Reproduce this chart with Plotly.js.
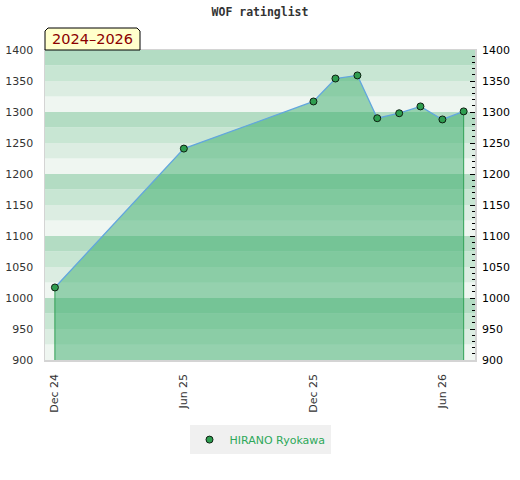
<!DOCTYPE html>
<html>
<head>
<meta charset="utf-8">
<script src="https://cdn.plot.ly/plotly-3.0.1.min.js"></script>
<style>html,body{margin:0;padding:0;background:#fff;}#chart{width:520px;height:480px;}</style>
</head>
<body>
<div id="chart"></div>
<script>
// ---- data ----
const playerName = "HIRANO Ryokawa";
const periodLabel = "2024–2026";
const chartTitle = "WOF ratinglist";
const dates = ["2024-12-01","2025-06-01","2025-12-01","2026-01-01","2026-02-01","2026-03-01","2026-04-01","2026-05-01","2026-06-01","2026-07-01"];
const ratings = [1017, 1241, 1317, 1354, 1359, 1290, 1298, 1309, 1288, 1301];
const xTickVals = ["2024-12-01","2025-06-01","2025-12-01","2026-06-01"];
const xTickText = ["Dec 24","Jun 25","Dec 25","Jun 26"];
const yMin = 900, yMax = 1400;
const xRange = ["2024-11-17","2026-07-17"];

// ---- background bands ----
const bandColors = ["#eff6f1","#dcede2","#c8e6d3","#b3dcc3"];
const shapes = [];
for (let v = yMin, i = 0; v < yMax; v += 25, i++) {
  shapes.push({type:"rect", xref:"paper", yref:"y", x0:0, x1:1, y0:v, y1:v+25,
    fillcolor: bandColors[i % 4], line:{width:0}, layer:"below"});
}
// vertical edges of the filled area
[0, dates.length-1].forEach(k => {
  shapes.push({type:"line", xref:"x", yref:"y", x0:dates[k], x1:dates[k], y0:yMin, y1:ratings[k],
    line:{color:"#2f9e50", width:1}, layer:"below"});
});
// period label box (cut corners)
shapes.push({type:"path", xref:"paper", yref:"paper", xsizemode:"pixel", ysizemode:"pixel",
  xanchor:0, yanchor:1, path:"M0,0 L0,19 L3,22 L92,22 L95,19 L95,0 Z",
  fillcolor:"#ffffcc", line:{color:"#000", width:1}, layer:"above"});

const traces = [
  {x:dates, y:ratings, type:"scatter", mode:"lines", showlegend:false, hoverinfo:"skip",
   fill:"tozeroy", fillcolor:"rgba(50,170,100,0.48)",
   line:{color:"#62a6de", width:1.3}},
  {x:dates, y:ratings, type:"scatter", mode:"markers", name:playerName,
   marker:{color:"#2f9e50", size:7, line:{color:"#0d1f12", width:1}}},
  {x:dates, y:ratings, type:"scatter", mode:"none", yaxis:"y2", showlegend:false, hoverinfo:"skip"}
];

const layout = {
  width:520, height:480,
  margin:{l:45, r:45, t:50, b:120},
  paper_bgcolor:"#fff", plot_bgcolor:"#fff",
  font:{family:"DejaVu Sans", size:11, color:"#333"},
  title:{text:chartTitle, x:0.5, xanchor:"center", y:0.975, yanchor:"middle",
    font:{family:"DejaVu Sans Mono", size:11.5, color:"#333", weight:"bold"}},
  xaxis:{type:"date", range:xRange, tickvals:xTickVals, ticktext:xTickText, tickangle:-90,
    showgrid:false, zeroline:false, showline:true, mirror:true, linecolor:"#d4d4d4", linewidth:1.5,
    ticks:"", ticklabelstandoff:8, tickfont:{size:11, color:"#333"}},
  yaxis:{range:[yMin,yMax], dtick:50, showgrid:false, zeroline:false, showline:true, mirror:true,
    linecolor:"#d4d4d4", linewidth:1.5, ticks:"", ticklabelstandoff:8, tickfont:{size:11, color:"#333"}},
  yaxis2:{range:[yMin,yMax], dtick:50, overlaying:"y", side:"right", showgrid:false, zeroline:false,
    showline:false, ticks:"inside", ticklen:5, tickcolor:"#000", tickwidth:1,
    minor:{dtick:10, ticks:"inside", ticklen:3, tickcolor:"#000", tickwidth:1},
    ticklabelstandoff:6, tickfont:{size:11, color:"#000"}},
  showlegend:true,
  legend:{orientation:"h", x:0.5, xanchor:"center", y:-0.21, yanchor:"top",
    bgcolor:"#f0f0f0", font:{size:11, color:"#2ea85a"}, itemwidth:30},
  shapes:shapes,
  annotations:[{text:periodLabel, xref:"paper", yref:"paper", x:0, y:1, xanchor:"left", yanchor:"bottom",
    xshift:5, yshift:1, showarrow:false, font:{family:"DejaVu Sans", size:14.5, color:"#8b0000"}}]
};

Plotly.newPlot("chart", traces, layout, {displayModeBar:false, staticPlot:true});
</script>
</body>
</html>
